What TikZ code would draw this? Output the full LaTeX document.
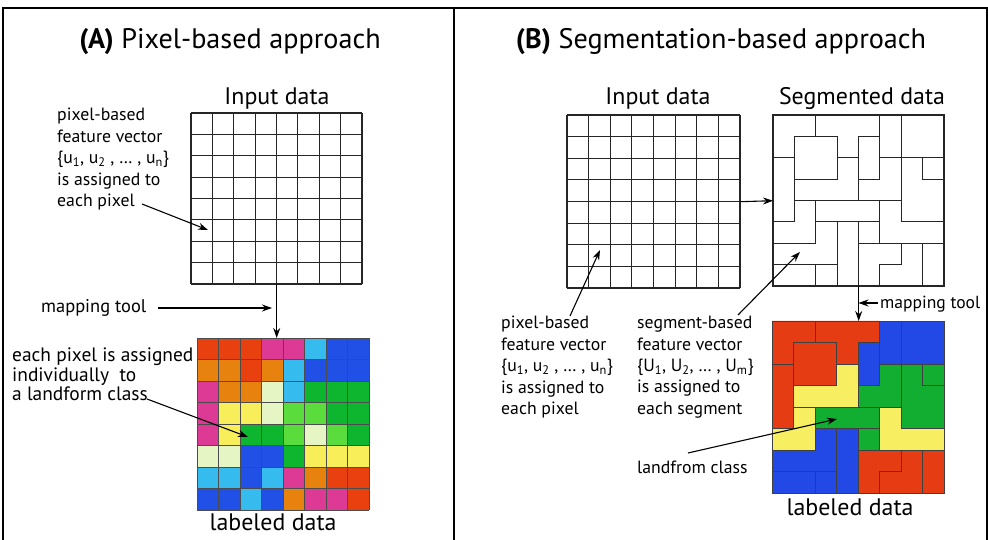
\documentclass[tikz,border=0pt]{standalone}
\usepackage{fontspec}
\setmainfont{PT Sans}
\usetikzlibrary{arrows.meta}
\definecolor{cR}{HTML}{E8400F}
\definecolor{cO}{HTML}{E8820E}
\definecolor{cM}{HTML}{DC3A95}
\definecolor{cC}{HTML}{35BBEE}
\definecolor{cB}{HTML}{2150E6}
\definecolor{cG}{HTML}{0EB52E}
\definecolor{cL}{HTML}{5ADC3C}
\definecolor{cY}{HTML}{F8EE5A}
\definecolor{cP}{HTML}{E6F5C4}
\definecolor{bR}{HTML}{E63C14}
\definecolor{bB}{HTML}{2249E6}
\definecolor{bG}{HTML}{12AE32}
\definecolor{bY}{HTML}{F8EE62}
\newcommand\mkgrid[3]{%
  \foreach \ii in {0,...,8}{%
    \draw[gl] ({#1+\ii*#3/8},#2) -- ({#1+\ii*#3/8},{#2+#3});
    \draw[gl] (#1,{#2+\ii*#3/8}) -- ({#1+#3},{#2+\ii*#3/8});
  }}
\newcommand\allsegs{%
  \segpoly{bR}{(0,0)--(2,0)--(2,1)--(1,1)--(1,2)--(0,2)}
  \segpoly{bR}{(2,0)--(5,0)--(5,1)--(4,1)--(4,2)--(3,2)--(3,1)--(2,1)}
  \segpoly{bR}{(1,1)--(3,1)--(3,3)--(1,3)}
  \segpoly{bB}{(4,1)--(5,1)--(5,3)--(4,3)}
  \segpoly{bY}{(3,2)--(4,2)--(4,4)--(1,4)--(1,3)--(3,3)}
  \segpoly{bB}{(5,0)--(6,0)--(6,2)--(5,2)}
  \segpoly{bB}{(6,0)--(8,0)--(8,2)--(6,2)}
  \segpoly{bG}{(5,2)--(6,2)--(6,4)--(4,4)--(4,3)--(5,3)}
  \segpoly{bG}{(6,2)--(7,2)--(7,3)--(8,3)--(8,5)--(6,5)}
  \segpoly{bG}{(7,2)--(8,2)--(8,3)--(7,3)}
  \segpoly{bR}{(0,2)--(1,2)--(1,5)--(0,5)}
  \segpoly{bY}{(1,4)--(2,4)--(2,6)--(0,6)--(0,5)--(1,5)}
  \segpoly{bG}{(2,4)--(5,4)--(5,5)--(2,5)}
  \segpoly{bG}{(4,5)--(5,5)--(5,6)--(4,6)}
  \segpoly{bY}{(5,4)--(6,4)--(6,5)--(8,5)--(8,6)--(5,6)}
  \segpoly{bB}{(3,5)--(4,5)--(4,8)--(3,8)}
  \segpoly{bB}{(2,5)--(3,5)--(3,7)--(0,7)--(0,6)--(2,6)}
  \segpoly{bB}{(0,7)--(2,7)--(2,8)--(0,8)}
  \segpoly{bB}{(2,7)--(3,7)--(3,8)--(2,8)}
  \segpoly{bR}{(4,6)--(6,6)--(6,7)--(5,7)--(5,8)--(4,8)}
  \segpoly{bR}{(6,6)--(7,6)--(7,8)--(5,8)--(5,7)--(6,7)}
  \segpoly{bR}{(7,6)--(8,6)--(8,8)--(7,8)}
}
\begin{document}
\begin{tikzpicture}[x=1bp,y=-1bp,
  frame/.style={line width=2bp},
  gl/.style={line width=1.1bp, black!85},
  seg/.style={draw=black!85, line width=1.1bp},
  lseg/.style={draw=black!75, line width=0.8bp},
  cellline/.style={line width=0.8bp, black!70},
  arr/.style={line width=1.1bp, -{Stealth[length=10bp,width=7bp]}},
  box/.style={inner sep=0pt, minimum width=#1, minimum height=#1, anchor=north west},
  title/.style={font=\fontsize{28.3}{30}\selectfont, inner sep=0pt},
  lbl/.style={font=\fontsize{24}{26}\selectfont, inner sep=0pt, anchor=base},
  txt/.style={font=\fontsize{17.8}{21.5}\selectfont, align=left, inner sep=0pt, anchor=north west},
  txtb/.style={font=\fontsize{19.5}{19.5}\selectfont, align=left, inner sep=0pt, anchor=north west},
  ]
\useasboundingbox (0,0) rectangle (988,540);
% frame
\draw[frame] (3,540) -- (3,8) -- (986.5,8) -- (986.5,540);
\draw[frame] (454,8) -- (454,540);

% titles
\node[title] (titA) at (230,42) {\textbf{(A)} Pixel-based approach};
\node[title] (titB) at (721,42) {\textbf{(B)} Segmentation-based approach};

% ---------- Panel A ----------
\node[lbl] (inAlbl) at (277,105) {Input data};
\node[box=171bp] (inA) at (191,113) {};
\mkgrid{191}{113}{171}

\node[box=172bp] (labA) at (197,338) {};
\begin{scope}[shift={(197,338)}, x=21.5bp, y=-21.5bp]
  \foreach \row [count=\rr from 0] in {
    {cR,cR,cR,cM,cM,cC,cB,cB},
    {cO,cO,cR,cO,cC,cB,cB,cB},
    {cM,cO,cO,cP,cC,cG,cG,cG},
    {cM,cY,cY,cP,cL,cL,cG,cG},
    {cM,cY,cG,cG,cL,cP,cL,cG},
    {cP,cP,cB,cB,cG,cY,cY,cY},
    {cC,cC,cB,cC,cM,cO,cR,cR},
    {cB,cB,cC,cB,cO,cM,cM,cR}}{
    \foreach \cc [count=\kk from 0] in \row {
      \fill[\cc] (\kk,\rr) rectangle ++(1,1);
    }
  }
  \foreach \ii in {0,...,8}{
    \draw[cellline] (\ii,0) -- (\ii,8);
    \draw[cellline] (0,\ii) -- (8,\ii);
  }
\end{scope}
\node[lbl] (labAlbl) at (273,530) {labeled data};

\node[txt] (pixA) at (57,108) {pixel-based\\feature vector\\\{u\textsubscript{1}, u\textsubscript{2} , … , u\textsubscript{n}\}\\is assigned to\\each pixel};
\coordinate (pixAs) at (142,204);
\coordinate (pixAt) at (208,230);
\draw[arr] (pixAs) -- (pixAt);

\node[txt, anchor=base west, font=\fontsize{18.5}{21}\selectfont] (mapA) at (41,313) {mapping tool};
\coordinate (mapAs) at (158,308);
\coordinate (mapAt) at (272,308);
\draw[arr] (mapAs) -- (mapAt);
\draw[arr] (inA.south) -- (inA.south |- labA.north);

\node[txtb] (eachA) at (12,348) {each pixel is assigned\\individually~ to\\a landform class};
\coordinate (eachAs) at (147,399);
\coordinate (eachAt) at (248,437);
\draw[arr] (eachAs) -- (eachAt);

% ---------- Panel B ----------
\node[lbl] (inBlbl) at (658,105) {Input data};
\node[box=173bp] (inB) at (567,115) {};
\mkgrid{567}{115}{173}

\node[lbl] (segBlbl) at (862,105) {Segmented data};
\node[box=171bp] (segB) at (773,115) {};
\begin{scope}[shift={(773,115)}, x=21.375bp, y=-21.375bp]
  \def\segpoly#1#2{\draw[seg] #2 -- cycle;}
  \allsegs
\end{scope}
\draw[arr] (inB.east) -- (segB.west);

\node[box=172bp] (labB) at (772,321) {};
\begin{scope}[shift={(772,321)}, x=21.5bp, y=-21.5bp]
  \def\segpoly#1#2{\filldraw[lseg, fill=#1] #2 -- cycle;}
  \allsegs
\end{scope}
\node[lbl] (labBlbl) at (850,515) {labeled data};

\draw[arr] (segB.south) -- (segB.south |- labB.north);
\node[txt, anchor=base west, font=\fontsize{17.6}{21}\selectfont] (mapB) at (880,309) {mapping tool};
\coordinate (mapBs) at (878,303);
\coordinate (mapBt) at (858.5,303);
\draw[arr] (mapBs) -- (mapBt);

\node[txt] (pixB) at (501,316) {pixel-based\\feature vector\\\{u\textsubscript{1}, u\textsubscript{2} , … , u\textsubscript{n}\}\\is assigned to\\each pixel};
\coordinate (pixBs) at (570,316);
\coordinate (pixBt) at (600,250);
\draw[arr] (pixBs) -- (pixBt);

\node[txt] (segtxt) at (637,316) {segment-based\\feature vector\\ \{U\textsubscript{1}, U\textsubscript{2}, … , U\textsubscript{m}\}\\ is assigned to\\ each segment};
\coordinate (segBs) at (738,315);
\coordinate (segBt) at (800,252);
\draw[arr] (segBs) -- (segBt);

\node[txt, anchor=base west] (lfc) at (637,473) {landfrom class};
\coordinate (lfcs) at (688,453);
\coordinate (lfct) at (837,419);
\draw[arr] (lfcs) -- (lfct);
\end{tikzpicture}
\end{document}
